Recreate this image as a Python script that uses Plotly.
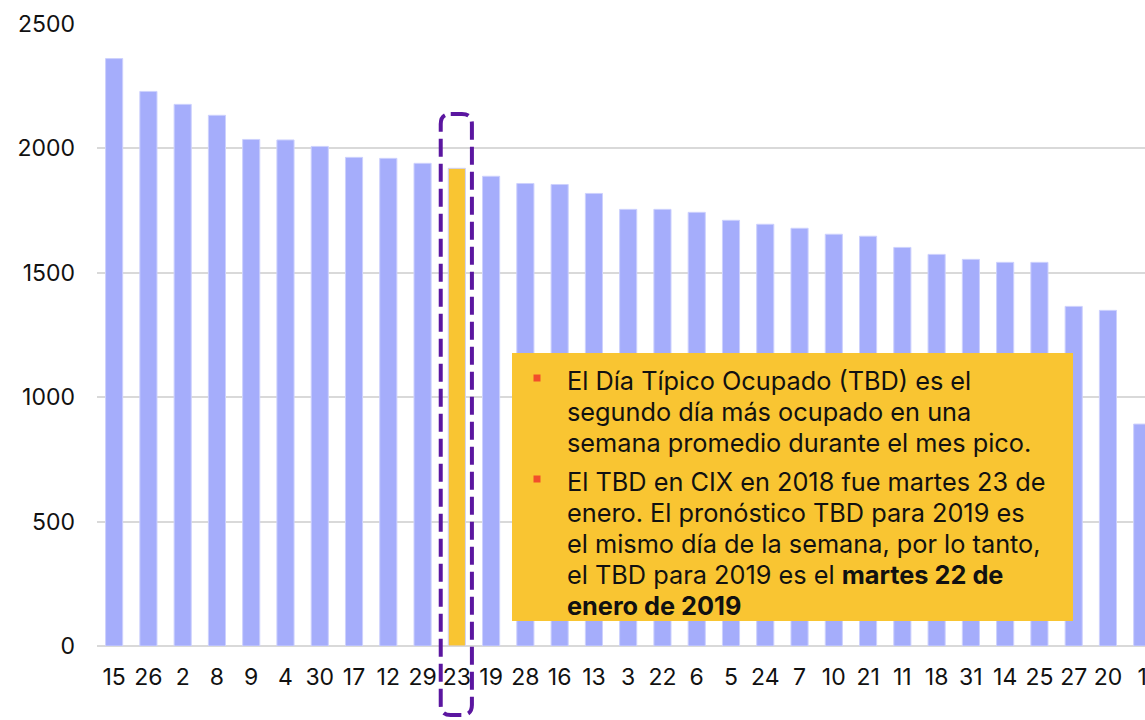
import plotly.graph_objects as go

days = ["15", "26", "2", "8", "9", "4", "30", "17", "12", "29", "23", "19", "28", "16", "13",
        "3", "22", "6", "5", "24", "7", "10", "21", "11", "18", "31", "14", "25", "27", "20", "1"]
values = [2361, 2229, 2177, 2133, 2036, 2034, 2008, 1964, 1960, 1940, 1920, 1888, 1859, 1855, 1819,
          1755, 1755, 1743, 1711, 1695, 1679, 1655, 1647, 1602, 1574, 1554, 1542, 1542, 1365, 1349, 892]
highlight_day = "23"
y_ticks = [0, 500, 1000, 1500, 2000, 2500]

bullet1_lines = ["El Día Típico Ocupado (TBD) es el",
                 "segundo día más ocupado en una",
                 "semana promedio durante el mes pico."]
bullet2_lines = ["El TBD en CIX en 2018 fue martes 23 de",
                 "enero. El pronóstico TBD para 2019 es",
                 "el mismo día de la semana, por lo tanto,",
                 "el TBD para 2019 es el <b>martes 22 de</b>",
                 "<b>enero de 2019</b>"]

BAR = "#A5ADFB"
YEL = "#F9C532"
PURPLE = "#5B16A0"
FONT = "Inter"

W, H = 1145, 720
ML, MR, MT, MB = 97, 0, 24, 74
PW, PH = W - ML - MR, H - MT - MB
UNIT = 34.27  # px per category in the reference
xmax = -0.5 + PW / UNIT


def px_x(p):
    return (p - ML) / PW


def px_y(p):
    return (H - MB - p) / PH


colors = [YEL if d == highlight_day else BAR for d in days]
idx = days.index(highlight_day)

fig = go.Figure(go.Bar(x=list(range(len(days))), y=values, marker_color=colors,
                       marker_line=dict(color="#CDD1FD", width=1)))

# dashed rounded rectangle around highlighted bar (x in data, y in paper)
xl, xr = idx - 0.47, idx + 0.44
yt, yb = px_y(114), px_y(715)
rx, ry = 10 / UNIT, 10 / PH
path = (f"M {xl+rx},{yt} L {xr-rx},{yt} Q {xr},{yt} {xr},{yt-ry} "
        f"L {xr},{yb+ry} Q {xr},{yb} {xr-rx},{yb} L {xl+rx},{yb} Q {xl},{yb} {xl},{yb+ry} "
        f"L {xl},{yt-ry} Q {xl},{yt} {xl+rx},{yt} Z")
shapes = [
    dict(type="path", xref="x", yref="paper", path=path,
         line=dict(color=PURPLE, width=4, dash="18px,7px"), layer="above"),
    dict(type="rect", xref="paper", yref="paper", x0=px_x(512), x1=px_x(1073), y0=px_y(621), y1=px_y(353),
         fillcolor=YEL, line=dict(width=0), layer="above"),
]

line_step = 31.2
annotations = []
blocks = [(bullet1_lines, 380), (bullet2_lines, 481)]
for lines, y0 in blocks:
    shapes.append(dict(type="rect", xref="paper", yref="paper", xsizemode="pixel", ysizemode="pixel",
                       xanchor=px_x(537), yanchor=px_y(y0 - 2), x0=-3.5, x1=3.5, y0=-3.5, y1=3.5,
                       fillcolor="#F24E2B", line=dict(width=0), layer="above"))
    for i, ln in enumerate(lines):
        annotations.append(dict(xref="paper", yref="paper", x=px_x(565), y=px_y(y0 + i * line_step),
                                xanchor="left", yanchor="middle", align="left", showarrow=False,
                                text=ln, font=dict(family=FONT, size=25.3, color="#111111")))

fig.update_layout(
    width=W, height=H,
    margin=dict(l=ML, r=MR, t=MT, b=MB, pad=0),
    paper_bgcolor="white", plot_bgcolor="white",
    bargap=0.5, showlegend=False,
    shapes=shapes, annotations=annotations,
    font=dict(family=FONT, color="#111111"),
    xaxis=dict(range=[-0.5, xmax], tickmode="array", tickvals=list(range(len(days))), ticktext=days,
               showgrid=False, showline=False, zeroline=False, ticks="", automargin=False,
               ticklabeloverflow="allow",
               tickfont=dict(family=FONT, size=23, color="#111111"), ticklabelstandoff=15),
    yaxis=dict(range=[0, 2500], tickvals=y_ticks, showgrid=True, gridcolor="#D9D9D9", gridwidth=1.5,
               zeroline=True, zerolinecolor="#D9D9D9", zerolinewidth=1.5, showline=False, ticks="",
               automargin=False,
               tickfont=dict(family=FONT, size=23, color="#111111"), ticklabelstandoff=21),
)

fig.write_html("out.html", config={"displayModeBar": False},
               post_script="document.body.style.margin='0';document.body.style.overflow='hidden';")
